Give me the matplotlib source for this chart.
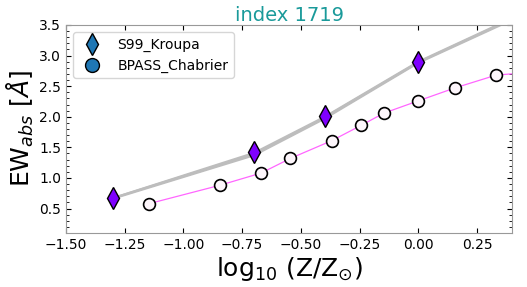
import numpy as np
import matplotlib.pyplot as plt
from matplotlib.ticker import AutoMinorLocator
from matplotlib.lines import Line2D

# S99 Kroupa points
s99_z = [-1.301, -0.699, -0.398, 0.0]
s99_ew = [0.67, 1.43, 2.01, 2.90]

# grey band (several S99 curves)
band_z = [-1.301, -0.699, -0.398, 0.0, 0.5]
band_ew = [
    [0.66, 1.37, 1.97, 2.88, 3.76],
    [0.67, 1.39, 1.99, 2.89, 3.78],
    [0.67, 1.41, 2.00, 2.90, 3.79],
]

# BPASS Chabrier points
bp_z = [-1.146, -0.845, -0.669, -0.544, -0.368, -0.243, -0.146, 0.0, 0.155, 0.331, 0.456]
bp_ew = [0.58, 0.88, 1.08, 1.32, 1.61, 1.86, 2.06, 2.26, 2.47, 2.68, 2.72]

fig = plt.figure(figsize=(5.27, 2.87), dpi=100)
ax = fig.add_axes([0.125, 0.188, 0.847, 0.725])

for ew in band_ew:
    ax.plot(band_z, ew, color='#bdbdbd', lw=1.5, zorder=1)

ax.plot(bp_z, bp_ew, color='#ff66ff', lw=0.9, zorder=2)
ax.plot(bp_z, bp_ew, 'o', ms=8.5, mfc='#fdf6fb', mec='k', mew=1.2, zorder=3)
ax.plot(s99_z, s99_ew, 'd', ms=11, mfc='#7f00ff', mec='k', mew=1.0, zorder=4)

ax.set_xlim(-1.5, 0.4)
ax.set_ylim(0.1, 3.5)
ax.set_yticks([0.5, 1.0, 1.5, 2.0, 2.5, 3.0, 3.5])
ax.yaxis.set_minor_locator(AutoMinorLocator(5))
ax.tick_params(direction='in', top=True, right=True, labelsize=10)
ax.tick_params(which='minor', direction='in', right=True, length=2)
for s in ax.spines.values():
    s.set_color('#999999')

ax.set_title('index 1719', color='#1a9a9a', fontsize=14, pad=3)
ax.set_xlabel(r'log$_{10}$ (Z/Z$_{\odot}$)', fontsize=18, labelpad=2)
ax.set_ylabel(r'EW$_{abs}$ [$\AA$]', fontsize=18, labelpad=2)

handles = [
    Line2D([], [], ls='none', marker='d', ms=11, mfc='#1f77b4', mec='k'),
    Line2D([], [], ls='none', marker='o', ms=10, mfc='#1f77b4', mec='k'),
]
ax.legend(handles, ['S99_Kroupa', 'BPASS_Chabrier'], loc='upper left', fontsize=10)

fig.savefig('out.png', dpi=100)
